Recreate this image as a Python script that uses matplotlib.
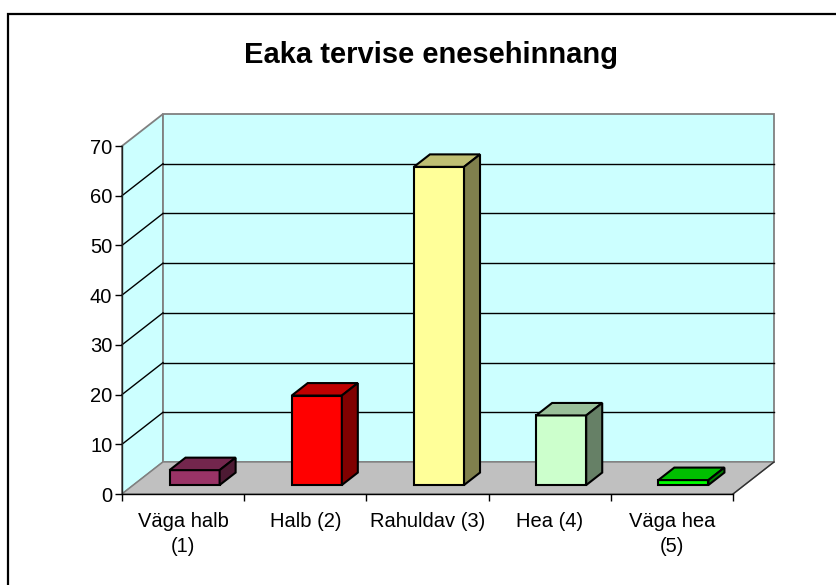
import matplotlib
matplotlib.use("Agg")
import matplotlib.pyplot as plt
from matplotlib.patches import Polygon, Rectangle
from matplotlib.colors import to_rgb
from matplotlib.ticker import FixedLocator, NullFormatter

# ---------------- data ----------------
title = "Eaka tervise enesehinnang"
categories = ["Väga halb\n(1)", "Halb (2)", "Rahuldav (3)", "Hea (4)", "Väga hea\n(5)"]
values = [3, 18, 64, 14, 1]
bar_colors = ["#993366", "#FF0000", "#FFFF99", "#CCFFCC", "#00FF00"]
y_ticks = [0, 10, 20, 30, 40, 50, 60, 70]

plt.rcParams['font.family'] = ['Liberation Sans', 'DejaVu Sans']

W, H = 836, 585
fig = plt.figure(figsize=(W / 100, H / 100), dpi=100)
fig.patch.set_facecolor("white")

# front plane of the 3D box (pixels)
x0, x1 = 122, 733
yb, yt = 494, 146
ax = fig.add_axes([x0 / W, 1 - yb / H, (x1 - x0) / W, (yb - yt) / H])
n = len(categories)
ymax = y_ticks[-1]
ax.set_xlim(0, n)
ax.set_ylim(0, ymax)
ax.patch.set_visible(False)

# depth offset in data units
ddx = 41 / ((x1 - x0) / n)
ddy = 32 / ((yb - yt) / ymax)

wall_c = "#CCFFFF"
floor_c = "#C0C0C0"
edge_g = "#808080"

def poly(pts, fc, ec, lw, z):
    p = Polygon(pts, closed=True, facecolor=fc, edgecolor=ec, linewidth=lw,
                zorder=z, clip_on=False, joinstyle="miter")
    ax.add_patch(p)

# side wall
poly([(0, 0), (0, ymax), (ddx, ymax + ddy), (ddx, ddy)], wall_c, edge_g, 1.3, 1)
# back wall
poly([(ddx, ddy), (n + ddx, ddy), (n + ddx, ymax + ddy), (ddx, ymax + ddy)], wall_c, edge_g, 1.3, 1)
# floor
poly([(0, 0), (n, 0), (n + ddx, ddy), (ddx, ddy)], floor_c, edge_g, 1.0, 1)
ax.plot([n, n + ddx], [0, ddy], color="#303030", lw=1.0, zorder=1.5, clip_on=False)

# gridlines
for v in y_ticks[1:-1]:
    ax.plot([0, ddx], [v, v + ddy], color="black", lw=1.0, zorder=1.2, clip_on=False)
    ax.plot([ddx, n + ddx], [v + ddy, v + ddy], color="black", lw=1.0, zorder=1.2, clip_on=False)

# bars
w = 0.205
d0, d1 = 0.28, 0.67
ox0, oy0 = d0 * ddx, d0 * ddy
ox1, oy1 = d1 * ddx, d1 * ddy
for i, (v, c) in enumerate(zip(values, bar_colors)):
    cx = i + 0.5
    rgb = to_rgb(c)
    top_c = tuple(0.75 * k for k in rgb)
    side_c = tuple(0.5 * k for k in rgb)
    L, R = cx - w, cx + w
    poly([(L + ox0, oy0), (R + ox0, oy0), (R + ox0, v + oy0), (L + ox0, v + oy0)], c, "black", 1.5, 3)
    poly([(L + ox0, v + oy0), (R + ox0, v + oy0), (R + ox1, v + oy1), (L + ox1, v + oy1)], top_c, "black", 1.5, 3)
    poly([(R + ox0, oy0), (R + ox1, oy1), (R + ox1, v + oy1), (R + ox0, v + oy0)], side_c, "black", 1.5, 3)

# axes / ticks
for s in ["top", "right"]:
    ax.spines[s].set_visible(False)
ax.spines["left"].set_color("#202020")
ax.spines["bottom"].set_color("black")
ax.spines["left"].set_linewidth(1.0)
ax.spines["bottom"].set_linewidth(1.0)
ax.spines["left"].set_zorder(2)
ax.spines["bottom"].set_zorder(2)

ax.set_yticks(y_ticks)
ax.set_yticklabels([str(t) for t in y_ticks])
ax.tick_params(axis="y", length=5, width=1, pad=2, labelsize=14.5, direction="out")

ax.xaxis.set_major_locator(FixedLocator(list(range(n + 1))))
ax.xaxis.set_major_formatter(NullFormatter())
ax.xaxis.set_minor_locator(FixedLocator([i + 0.5 for i in range(n)]))
ax.set_xticklabels(categories, minor=True)
ax.tick_params(axis="x", which="major", length=5, width=1, direction="out")
ax.tick_params(axis="x", which="minor", length=0, pad=13, labelsize=14.5)
for lbl in ax.get_xticklabels(minor=True):
    lbl.set_linespacing(1.4)

# title
fig.text(431 / W, 1 - 63 / H, title, ha="center", va="baseline",
         fontsize=21, fontweight="bold")

# outer frame (cut off at right / bottom)
frame = Rectangle((8 / W, -0.2), 1.5, (1 - 14 / H) + 0.2, transform=fig.transFigure,
                  fill=False, edgecolor="black", linewidth=1.6, clip_on=False)
fig.add_artist(frame)

fig.savefig("out.png", dpi=100)
